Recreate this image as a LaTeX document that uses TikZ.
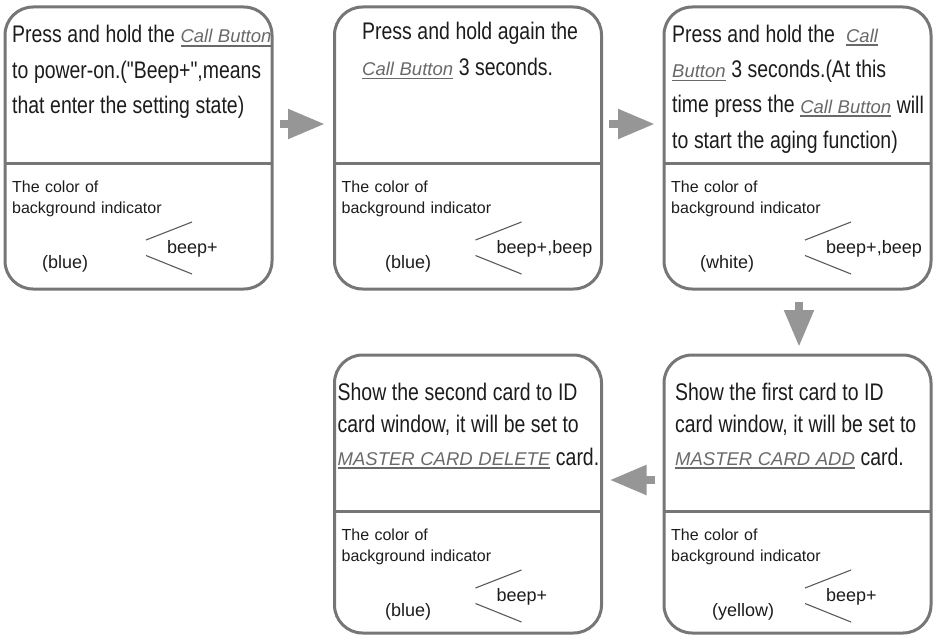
\documentclass[tikz,border=0pt]{standalone}
\usepackage{fontspec}
\setmainfont{Liberation Sans}
\newfontfamily\narrowfont[FakeStretch=0.81]{Liberation Sans}
\newfontfamily\linkfont{Liberation Sans}
\usetikzlibrary{calc,positioning,arrows.meta}
\definecolor{boxgray}{RGB}{118,118,118}
\definecolor{flowgray}{RGB}{150,150,150}
\definecolor{linkgray}{RGB}{105,105,105}
\definecolor{inkgray}{RGB}{28,28,28}
\definecolor{tickgray}{RGB}{90,90,90}
\DeclareRobustCommand{\narrowsize}[1]{\narrowfont\fontsize{24}{#1}\selectfont}
\newcommand{\ulink}[1]{\leavevmode{\setbox0\hbox{\linkfont\itshape\fontsize{18.5}{20}\selectfont\textcolor{linkgray}{#1}}\rlap{\textcolor{linkgray}{\rule[-3.5pt]{\wd0}{1.4pt}}}\box0}}

\begin{document}
\begin{tikzpicture}[x=1pt,y=-1pt,inner sep=0pt,
  card/.style={draw=boxgray,line width=3pt,rounded corners=28pt,minimum width=267pt,outer sep=0pt},
  toprow/.style={card,minimum height=282pt},
  botrow/.style={card,minimum height=278pt},
  split/.style={draw=boxgray,line width=2.4pt},
  bigtext/.style={anchor=base west,align=left,text width=300pt,text=inkgray,
    font=\narrowsize{#1},execute at begin node={\spaceskip=5.6pt\xspaceskip=5.6pt\relax}},
  bigtext/.default=35.5,
  smalltext/.style={anchor=base west,align=left,text width=200pt,text=inkgray,
    font=\fontsize{16}{20.5}\selectfont},
  labeltext/.style={anchor=base west,text=inkgray,font=\fontsize{18}{20}\selectfont},
  sndtext/.style={anchor=west,text=inkgray,font=\fontsize{18}{20}\selectfont},
  tick/.style={draw=tickgray,line width=1.1pt},
  flow/.style={draw=flowgray,line width=8pt,-{Triangle[length=37pt,width=28pt]}}]
\useasboundingbox (0,0) rectangle (933,634);

\node (b1) [toprow] at (138.5,148) {};
\node (b2) [toprow] at (468,148) {};
\node (b3) [toprow] at (797.5,148) {};
\node (b4) [botrow] at (468,494) {};
\node (b5) [botrow] at (797.5,494) {};

\node (b1-txt) [bigtext] at ($(b1.north west)+(7,36)$)
  {Press and hold the \ulink{Call Button}\\to power-on.("Beep+",means\\that enter the setting state)};
\node (b2-txt) [bigtext] at ($(b2.north west)+(27.5,33)$)
  {Press and hold again the\\\ulink{Call Button} 3 seconds.};
\node (b3-txt) [bigtext] at ($(b3.north west)+(8,35)$)
  {Press and hold the\ \ \ulink{Call}\\\ulink{Button} 3 seconds.(At this\\time press the \ulink{Call Button} will\\to start the aging function)};
\node (b4-txt) [bigtext=32.5] at ($(b4.north west)+(3,45)$)
  {Show the second card to ID\\card window, it will be set to\\\ulink{MASTER CARD DELETE} card.};
\node (b5-txt) [bigtext=32.5] at ($(b5.north west)+(11,45)$)
  {Show the first card to ID\\card window, it will be set to\\\ulink{MASTER CARD ADD} card.};

\foreach \b/\lx/\lab/\snd in {b1/37/blue/beep+,b2/50.5/blue/{beep+,beep},b3/36/white/{beep+,beep},b4/50.5/blue/beep+,b5/48/yellow/beep+}{
  \draw[split] ($(\b.north west)+(0,156.5)$) -- ($(\b.north east)+(0,156.5)$);
  \node (\b-ind) [smalltext] at ($(\b.north west)+(7,185.5)$) {The color of\\background indicator};
  \node (\b-lab) [labeltext] at ($(\b.north west)+(\lx,261)$) {(\lab)};
  \node (\b-snd) [sndtext] at ($(\b.north west)+(162,241.5)$) {\snd};
  \draw[tick] ($(\b.north west)+(141,233)$) -- ($(\b.north west)+(187,215)$);
  \draw[tick] ($(\b.north west)+(141,248.5)$) -- ($(\b.north west)+(187,267)$);
}

\draw[flow] ($(b1.east)+(8,-24)$) -- ($(b2.west)+(-9.5,-24)$);
\draw[flow] ($(b2.east)+(7.5,-24)$) -- ($(b3.west)+(-9,-24)$);
\draw[flow] ($(b3.south)+(1.5,13)$) -- ($(b5.north)+(1.5,-8)$);
\draw[flow] ($(b5.west)+(-9,-14)$) -- ($(b4.east)+(8,-14)$);
\end{tikzpicture}
\end{document}
